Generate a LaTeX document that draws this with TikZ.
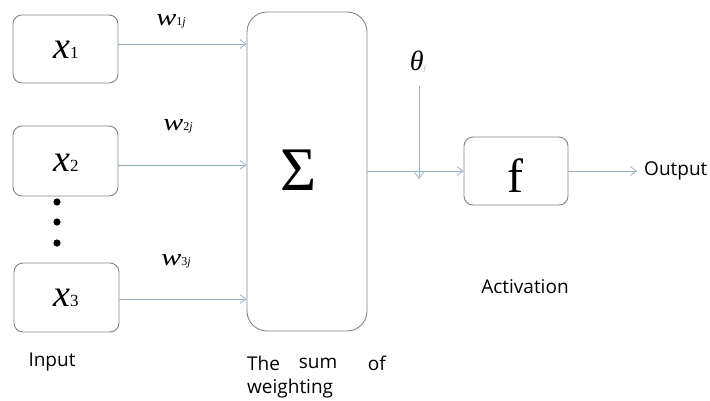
\documentclass[tikz,border=0pt]{standalone}
\usepackage{fontspec}
\setmainfont{Open Sans}
\newfontfamily\tnr{Liberation Serif}
\usetikzlibrary{arrows.meta}
\definecolor{boxc}{RGB}{125,135,135}
\definecolor{arrc}{RGB}{150,180,192}
\tikzset{
  rbox/.style={draw=boxc, line width=0.9pt, rounded corners=9pt, inner sep=0pt},
  conn/.style={draw=arrc, line width=0.9pt, -{Straight Barb[length=6pt,width=9pt,line width=0.8pt]}},
  lbl/.style={font=\fontsize{19}{22}\selectfont, inner sep=0pt},
}
\newcommand{\xv}[1]{{\tnr\fontsize{38}{40}\selectfont\itshape x\fontsize{17}{18}\selectfont\upshape #1}}
\newcommand{\wv}[1]{{\tnr\fontsize{24}{25}\selectfont\itshape\scalebox{1.25}[1]{w}\fontsize{12}{13}\selectfont\upshape #1\itshape j}}
\begin{document}
\begin{tikzpicture}[x=1pt,y=-1pt]
\useasboundingbox (0,0) rectangle (710,400);
% input boxes
\node[rbox, minimum width=105pt, minimum height=68pt] (x1) at (65.5,49) {};
\node[rbox, minimum width=105pt, minimum height=70pt] (x2) at (65.5,161) {};
\node[rbox, minimum width=105pt, minimum height=69pt] (x3) at (66.5,297.5) {};
\node[inner sep=0pt] (x1t) at (66,50) {\xv{1}};
\node[inner sep=0pt] (x2t) at (66,163) {\xv{2}};
\node[inner sep=0pt] (x3t) at (66,298) {\xv{3}};
% dots
\fill (57,202) circle (3.6pt);
\fill (57,222) circle (3.6pt);
\fill (57,243) circle (3.6pt);
% sum box
\node[rbox, rounded corners=20pt, minimum width=120pt, minimum height=319pt] (sum) at (307,171.5) {};
\node[inner sep=0pt] (sig) at (299,170) {\tnr\fontsize{62}{64}\selectfont Σ};
% f box
\node[rbox, minimum width=104pt, minimum height=68pt] (f) at (516,171) {};
\node[inner sep=0pt] (ft) at (515,176) {\tnr\fontsize{48}{50}\selectfont f};
% weights
\node[inner sep=0pt] (w1) at (171,21) {\wv{1}};
\node[inner sep=0pt] (w2) at (178,126) {\wv{2}};
\node[inner sep=0pt] (w3) at (176,261) {\wv{3}};
% theta
\node[inner sep=0pt] (th) at (418,62) {\tnr\fontsize{28}{30}\selectfont\itshape θ\fontsize{9}{10}\selectfont\color{gray!60}j};
\coordinate (thb) at (419,86);
\coordinate (thj) at (419,173);
% connectors
\draw[conn] (x1.east |- 0,44) -- (sum.west |- 0,44);
\draw[conn] (x2.east |- 0,165) -- (sum.west |- 0,165);
\draw[conn] (x3.east |- 0,299) -- (sum.west |- 0,299);
\draw[conn] (thb) -- ([yshift=-6pt]thj);
\draw[conn] (sum.east |- f.west) -- (f.west);
\coordinate (outend) at (637,171);
\draw[conn] (f.east) -- (outend);
% labels
\node[lbl, anchor=west] (out) at (644,171) {Output};
\node[lbl] (act) at (525,287) {Activation};
\node[lbl] (inp) at (52,362) {Input};
\node[lbl, anchor=west] (the) at (247,363) {The};
\node[lbl] (sm) at (318,363) {sum};
\node[lbl, anchor=east] (of) at (386,363) {of};
\node[lbl, anchor=west] (wt) at (247,389) {weighting};
\end{tikzpicture}
\end{document}
